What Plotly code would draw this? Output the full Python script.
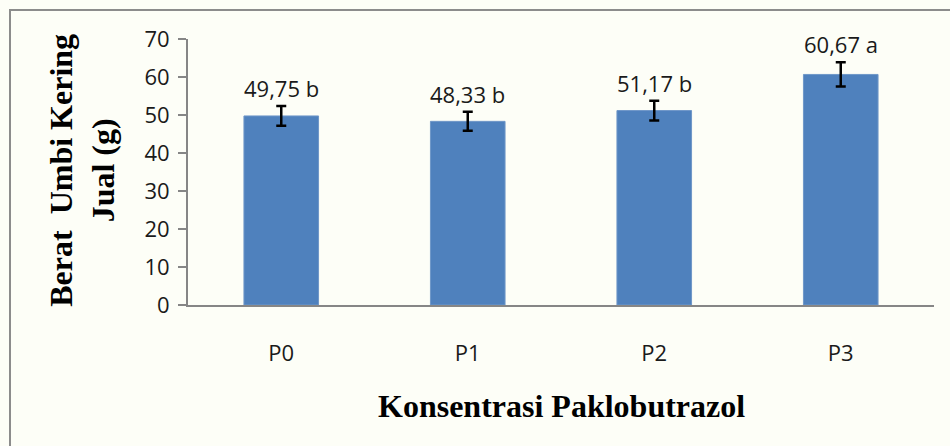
import plotly.graph_objects as go

categories = ["P0", "P1", "P2", "P3"]
values = [49.75, 48.33, 51.17, 60.67]
errors = [2.6, 2.5, 2.6, 3.2]
letters = ["b", "b", "b", "a"]
y_ticks = [0, 10, 20, 30, 40, 50, 60, 70]

labels = [f"{v:.2f}".replace(".", ",") + " " + l for v, l in zip(values, letters)]

fig = go.Figure()
fig.add_trace(go.Bar(
    x=categories, y=values,
    marker=dict(color="#4f81bd", line=dict(color="#6f97c8", width=1)),
    error_y=dict(type="data", array=errors, visible=True, color="black", thickness=2.5, width=5),
    width=0.4,
))

for c, v, e, t in zip(categories, values, errors, labels):
    fig.add_annotation(x=c, y=v + e, text=t, showarrow=False, yanchor="bottom", yshift=1,
                       font=dict(family="Open Sans", size=22, color="#1a1a1a"))

fig.add_annotation(xref="paper", yref="paper", x=0.5, y=-0.38, yanchor="middle", showarrow=False,
                   text="<b>Konsentrasi Paklobutrazol</b>",
                   font=dict(family="Liberation Serif", size=32, color="black"))
fig.add_annotation(xref="paper", yref="paper", x=-0.142, y=0.505, xanchor="center", yanchor="middle",
                   textangle=-90, showarrow=False,
                   text="<b>Berat  Umbi Kering<br>Jual (g)</b>", align="center",
                   font=dict(family="Liberation Serif", size=32, color="black"))

fig.add_shape(type="rect", xref="paper", yref="paper", x0=-0.2386, x1=1.1, y0=-0.6, y1=1.1089,
              line=dict(color="#8c8c8c", width=2), layer="below")

fig.update_layout(
    width=950, height=446,
    margin=dict(l=188, r=16, t=39, b=141),
    paper_bgcolor="#fdfef7", plot_bgcolor="rgba(0,0,0,0)",
    showlegend=False,
    xaxis=dict(showline=True, linecolor="#868686", linewidth=2, ticks="", showgrid=False,
               tickfont=dict(family="Open Sans", size=22, color="#1a1a1a"), ticklabelstandoff=28),
    yaxis=dict(range=[0, 70], tickvals=y_ticks, showline=True, linecolor="#868686", linewidth=2,
               ticks="outside", ticklen=8, tickcolor="#868686", tickwidth=2, showgrid=False, zeroline=False,
               tickfont=dict(family="Open Sans", size=22, color="#1a1a1a"), ticklabelstandoff=4),
)

fig.write_html("out.html", config={"displayModeBar": False},
               post_script="document.body.style.margin='0';document.body.style.background='#fdfef7';")
